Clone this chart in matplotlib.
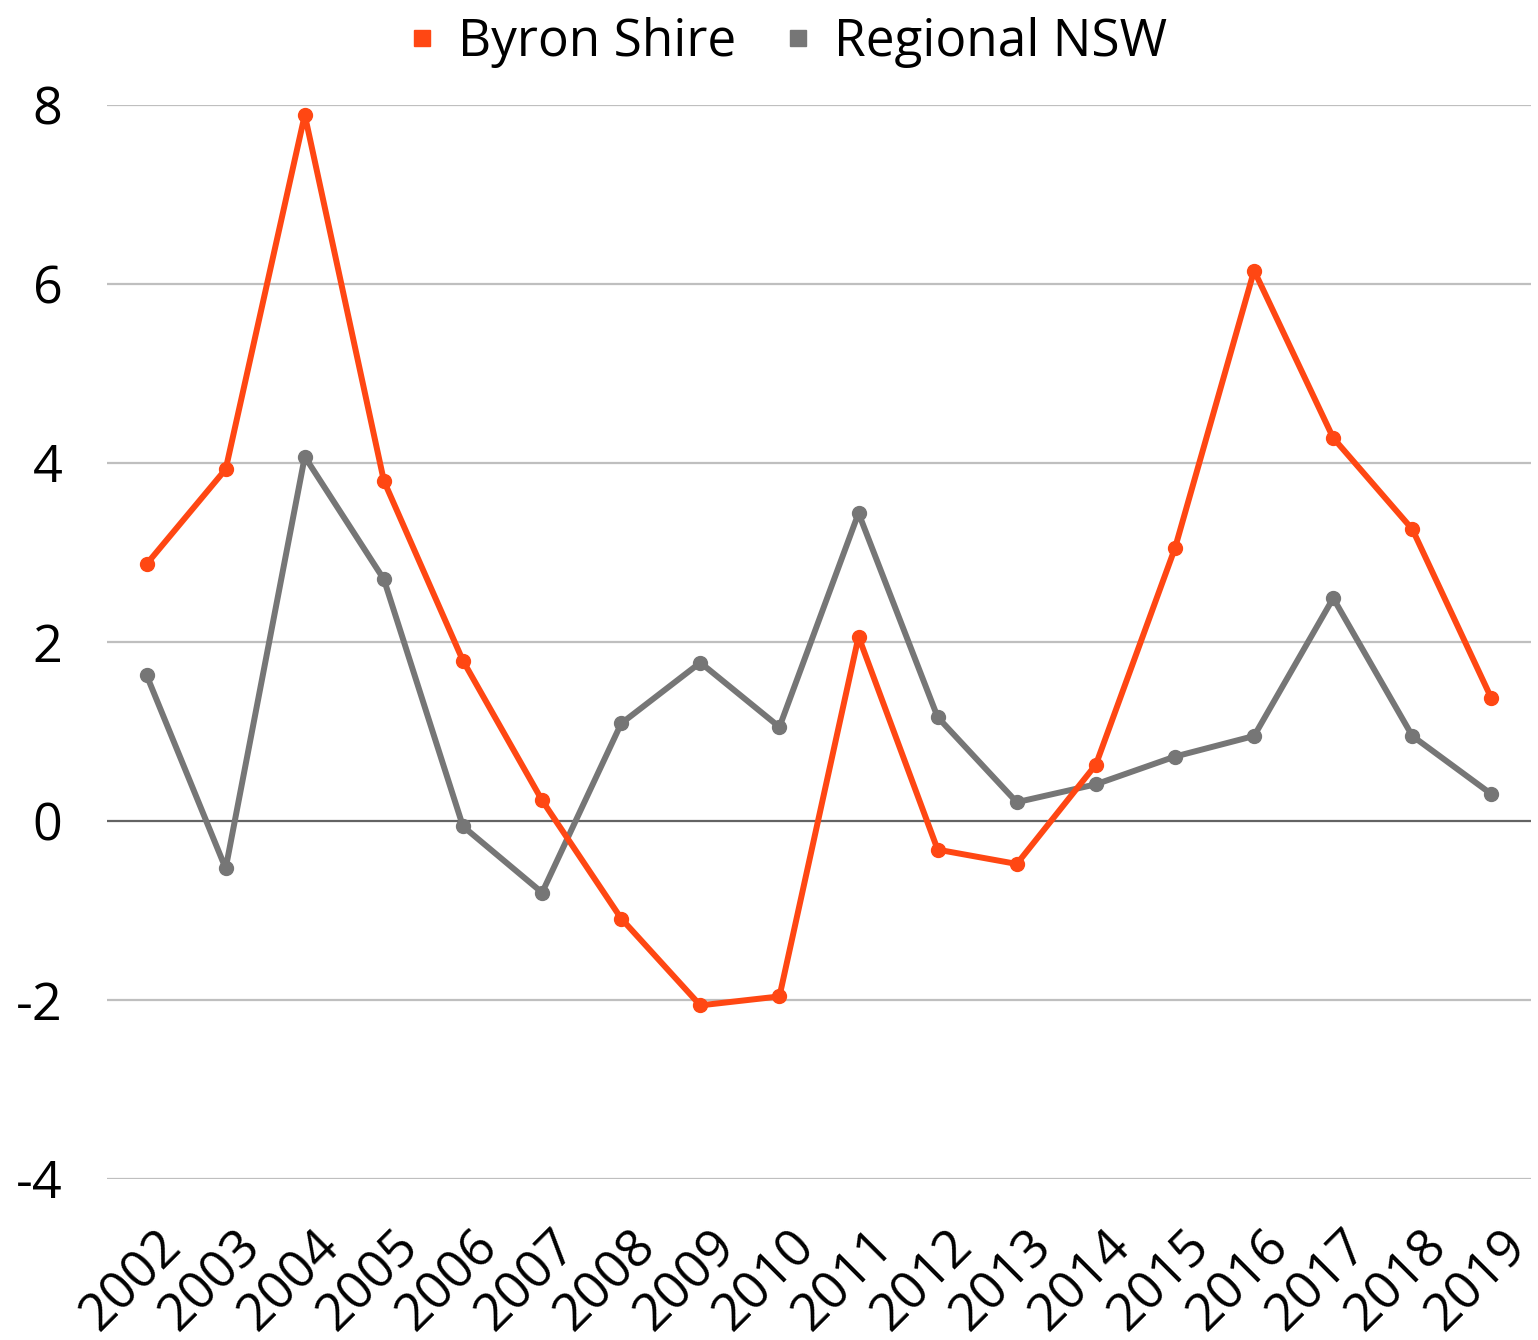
import matplotlib
matplotlib.use("Agg")
import matplotlib.pyplot as plt
from matplotlib.lines import Line2D
from matplotlib.transforms import ScaledTranslation

years = ["2002", "2003", "2004", "2005", "2006", "2007", "2008", "2009", "2010",
         "2011", "2012", "2013", "2014", "2015", "2016", "2017", "2018", "2019"]
byron = [2.87, 3.93, 7.89, 3.80, 1.79, 0.23, -1.09, -2.06, -1.96,
         2.06, -0.32, -0.48, 0.63, 3.05, 6.15, 4.28, 3.26, 1.37]
regional = [1.63, -0.53, 4.07, 2.70, -0.06, -0.80, 1.09, 1.77, 1.05,
            3.44, 1.16, 0.21, 0.41, 0.72, 0.95, 2.49, 0.95, 0.30]
series_names = ["Byron Shire", "Regional NSW"]
yticks = [-4, -2, 0, 2, 4, 6, 8]

orange = "#FF4713"
grey = "#767676"

plt.rcParams['font.family'] = ['Open Sans', 'DejaVu Sans']

W, H = 1538, 1340
fig = plt.figure(figsize=(W / 100, H / 100), dpi=100)
ax = fig.add_axes([107 / W, 1 - 1179 / H, (1531 - 107) / W, (1179 - 105) / H])

x = list(range(len(years)))
ax.plot(x, byron, color=orange, lw=4.3, marker='o', ms=10, zorder=4)
ax.plot(x, regional, color=grey, lw=4.3, marker='o', ms=10, zorder=3)

ax.set_xlim(-0.5, len(years) - 0.5)
ax.set_ylim(-4, 8)
ax.set_yticks(yticks)
ax.set_yticklabels([str(v) for v in yticks])
ax.set_xticks(x)
ax.set_xticklabels(years, rotation=45, ha='right', va='center', rotation_mode='anchor')

for v in yticks:
    if v == 0:
        ax.axhline(v, color="#636363", lw=1.6, zorder=2)
    else:
        ax.axhline(v, color="#BFBFBF", lw=1.6, zorder=1)

for s in ax.spines.values():
    s.set_visible(False)
ax.tick_params(axis='both', length=0, labelsize=37.5)
ax.tick_params(axis='y', pad=32)
ax.tick_params(axis='x', pad=18)

offset = ScaledTranslation(0.27, -0.35, fig.dpi_scale_trans)
for lbl in ax.get_xticklabels():
    lbl.set_transform(lbl.get_transform() + offset)

handles = [Line2D([], [], color=orange, marker='s', ls='none', ms=12),
           Line2D([], [], color=grey, marker='s', ls='none', ms=12)]
fig.legend(handles, series_names, loc='center', bbox_to_anchor=(784 / W, 1 - 42 / H),
           ncol=2, frameon=False, handletextpad=0.3, columnspacing=0.8,
           handlelength=0.8, prop={'size': 37.0})

fig.savefig("out.png", dpi=100)
